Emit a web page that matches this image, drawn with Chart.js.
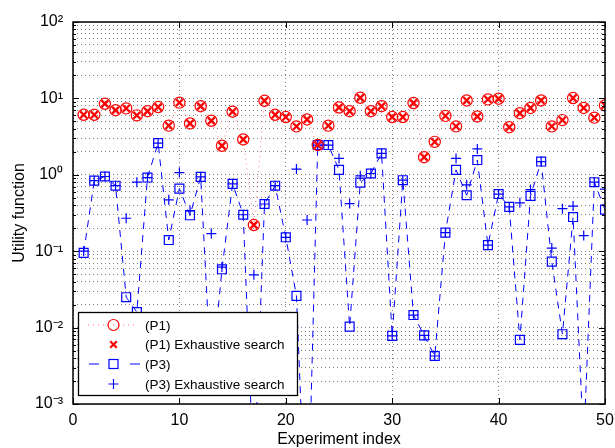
<!DOCTYPE html>
<html>
<head>
<meta charset="utf-8">
<script src="https://cdn.jsdelivr.net/npm/chart.js@4.4.1/dist/chart.umd.min.js"></script>
<style>
  html, body { margin: 0; padding: 0; background: #fff; }
  #wrap { width: 615px; height: 448px; position: relative; }
</style>
</head>
<body>
<div id="wrap"><canvas id="c" width="615" height="448"></canvas></div>
<script>
// ---- data ----
const experimentIndex = Array.from({length: 50}, (_, i) => i + 1);
const p1Values = [6.1,6.1,8.5,7.0,7.4,6.0,6.8,7.7,4.4,8.8,
                  4.7,7.9,5.1,2.4,6.7,2.9,0.22,9.3,6.1,5.7,
                  4.3,5.3,2.45,4.4,7.6,6.8,10.2,6.8,7.9,5.7,
                  5.7,8.7,1.7,2.7,5.9,4.3,9.4,5.8,9.7,9.9,
                  4.2,6.4,7.5,9.4,4.3,5.2,10.1,7.5,5.6,8.1];
const p1Exhaustive = [6.1,6.1,8.5,7.0,7.4,6.0,6.8,7.7,4.4,8.8,
                  4.7,7.9,5.1,2.4,6.7,2.9,0.22,9.3,6.1,5.7,
                  4.3,5.3,2.45,4.4,7.6,6.8,10.2,6.8,7.9,5.7,
                  5.7,8.7,1.7,2.7,5.9,4.3,9.4,5.8,9.7,9.9,
                  4.2,6.4,7.5,9.4,4.3,5.2,10.1,7.5,5.6,8.1];
const p3Values = [0.095,0.84,0.95,0.72,0.025,0.016,0.92,2.6,0.14,0.66,
                  0.295,0.94,0.002,0.058,0.76,0.30,0.0001,0.415,0.72,0.152,
                  0.026,0.00001,2.45,2.45,1.16,0.0103,0.79,1.04,1.91,0.0078,
                  0.85,0.0146,0.0079,0.00425,0.175,1.16,0.54,1.56,0.12,0.56,
                  0.38,0.0069,0.53,1.49,0.073,0.0082,0.28,0.0003,0.80,0.35];
const p3Exhaustive = [0.1,0.84,0.95,0.72,0.27,0.80,0.92,2.6,0.47,1.07,
                  0.34,0.94,0.17,0.062,0.76,0.30,0.049,0.415,0.72,0.152,
                  1.19,0.256,2.45,2.45,1.64,0.42,0.97,1.04,1.91,0.0078,
                  0.85,0.0146,0.0079,0.00425,0.175,1.64,0.74,2.18,0.12,0.56,
                  0.38,0.43,0.64,1.49,0.11,0.36,0.39,0.16,0.80,0.65];
const seriesLabels = ['(P1)', '(P1) Exhaustive search', '(P3)', '(P3) Exhaustive search'];
const xTickValues = [0, 10, 20, 30, 40, 50];
const yMajorValues = [0.001, 0.01, 0.1, 1, 10, 100];
const yTickLabels = ['10\u207B\u00B3', '10\u207B\u00B2', '10\u207B\u00B9', '10\u2070', '10\u00B9', '10\u00B2'];
const xTitle = 'Experiment index';
const yTitle = 'Utility function';

// ---- build ----
const pts = vals => experimentIndex.map((x, i) => ({x: x, y: vals[i]}));
const FONT = "'Liberation Sans', Arial, Helvetica, sans-serif";
const RED = 'rgb(255,0,0)';
const BLUE = 'rgb(0,0,255)';
const GRID = 'rgba(0,0,0,0.5)';

const yTicksAll = [];
for (let d = 0; d < yMajorValues.length - 1; d++) {
  for (let m = 1; m <= 9; m++) yTicksAll.push(yMajorValues[d] * m);
}
yTicksAll.push(yMajorValues[yMajorValues.length - 1]);
function majorIndex(v) {
  for (let i = 0; i < yMajorValues.length; i++) {
    if (Math.abs(v - yMajorValues[i]) / yMajorValues[i] < 1e-9) return i;
  }
  return -1;
}

const framePlugin = {
  id: 'frame',
  afterDatasetsDraw(chart) {
    const {ctx, chartArea: {left, right, top, bottom}, scales: {x, y}} = chart;
    ctx.save();
    ctx.strokeStyle = '#000';
    ctx.lineWidth = 1;
    ctx.setLineDash([]);
    ctx.beginPath();
    y.ticks.forEach(t => {
      const py = Math.round(y.getPixelForValue(t.value)) + 0.5;
      const len = majorIndex(t.value) >= 0 ? 6 : 3;
      ctx.moveTo(left, py); ctx.lineTo(left + len, py);
      ctx.moveTo(right, py); ctx.lineTo(right - len, py);
    });
    x.ticks.forEach(t => {
      const px = Math.round(x.getPixelForValue(t.value)) + 0.5;
      ctx.moveTo(px, bottom); ctx.lineTo(px, bottom - 6);
      ctx.moveTo(px, top); ctx.lineTo(px, top + 6);
    });
    ctx.stroke();
    ctx.lineWidth = 1.5;
    ctx.strokeRect(left, top, right - left, bottom - top);
    ctx.restore();
  },
  afterDraw(chart) {
    const ctx = chart.ctx;
    const bx = 78.5, by = 312.5, bw = 219, bh = 83;
    ctx.save();
    ctx.fillStyle = '#fff';
    ctx.fillRect(bx, by, bw, bh);
    ctx.strokeStyle = '#000';
    ctx.lineWidth = 1.3;
    ctx.strokeRect(bx, by, bw, bh);
    const rows = [325, 344.5, 364, 384];
    const mx = 113.5;
    // P1
    ctx.strokeStyle = 'rgba(255,0,0,0.6)';
    ctx.lineWidth = 1;
    ctx.setLineDash([1, 4]);
    ctx.beginPath(); ctx.moveTo(88, rows[0]); ctx.lineTo(138, rows[0]); ctx.stroke();
    ctx.setLineDash([]);
    ctx.strokeStyle = RED; ctx.lineWidth = 1.2;
    ctx.beginPath(); ctx.arc(mx, rows[0], 5.5, 0, Math.PI * 2); ctx.stroke();
    // P1 exhaustive
    ctx.lineWidth = 2.2;
    ctx.beginPath();
    ctx.moveTo(mx - 3.3, rows[1] - 3.3); ctx.lineTo(mx + 3.3, rows[1] + 3.3);
    ctx.moveTo(mx - 3.3, rows[1] + 3.3); ctx.lineTo(mx + 3.3, rows[1] - 3.3);
    ctx.stroke();
    // P3
    ctx.strokeStyle = BLUE; ctx.lineWidth = 1;
    ctx.setLineDash([10, 31]);
    ctx.beginPath(); ctx.moveTo(89, rows[2]); ctx.lineTo(140, rows[2]); ctx.stroke();
    ctx.setLineDash([]);
    ctx.lineWidth = 1.2;
    ctx.strokeRect(mx - 4.5, rows[2] - 4.5, 9, 9);
    // P3 exhaustive
    ctx.beginPath();
    ctx.moveTo(mx - 5, rows[3]); ctx.lineTo(mx + 5, rows[3]);
    ctx.moveTo(mx, rows[3] - 5); ctx.lineTo(mx, rows[3] + 5);
    ctx.stroke();
    // text
    ctx.fillStyle = '#000';
    ctx.font = '13.5px ' + FONT;
    ctx.textBaseline = 'middle';
    ctx.textAlign = 'left';
    seriesLabels.forEach((s, i) => ctx.fillText(s, 145, rows[i] + 1));
    ctx.restore();
  }
};

new Chart(document.getElementById('c'), {
  type: 'line',
  data: {
    datasets: [
      {
        label: seriesLabels[0], data: pts(p1Values),
        borderColor: 'rgba(255,0,0,0.5)', borderWidth: 1, borderDash: [1, 4],
        pointStyle: 'circle', pointRadius: 5.6, pointBorderColor: RED,
        pointBackgroundColor: 'rgba(0,0,0,0)', pointBorderWidth: 1.2, tension: 0
      },
      {
        label: seriesLabels[1], data: pts(p1Exhaustive), showLine: false,
        pointStyle: 'crossRot', pointRadius: 4.8, pointBorderColor: RED,
        pointBorderWidth: 2.3
      },
      {
        label: seriesLabels[2], data: pts(p3Values),
        borderColor: BLUE, borderWidth: 1, borderDash: [7, 6],
        pointStyle: 'rect', pointRadius: 6.3, pointBorderColor: BLUE,
        pointBackgroundColor: 'rgba(0,0,0,0)', pointBorderWidth: 1.2, tension: 0
      },
      {
        label: seriesLabels[3], data: pts(p3Exhaustive), showLine: false,
        pointStyle: 'cross', pointRadius: 5, pointBorderColor: BLUE,
        pointBorderWidth: 1.2
      }
    ]
  },
  options: {
    responsive: false,
    animation: false,
    devicePixelRatio: 1,
    layout: { padding: { left: 0, right: 10, top: 22, bottom: 0 } },
    plugins: { legend: { display: false }, tooltip: { enabled: false } },
    scales: {
      x: {
        type: 'linear', min: 0, max: 50,
        afterBuildTicks: s => { s.ticks = xTickValues.map(v => ({value: v})); },
        afterFit: s => { s.height = 44; s.paddingLeft = 0; s.paddingRight = 0; },
        ticks: { color: '#000', font: { family: FONT, size: 16 }, padding: 7, maxRotation: 0,
                 callback: v => String(v) },
        grid: { color: GRID, lineWidth: 1, drawTicks: false },
        border: { display: false, dash: [1, 3] },
        title: { display: true, text: xTitle, color: '#000', font: { family: FONT, size: 16 },
                 padding: { top: 0, bottom: -1 } }
      },
      y: {
        type: 'logarithmic', min: 0.001, max: 100,
        afterBuildTicks: s => { s.ticks = yTicksAll.map(v => ({value: v})); },
        afterFit: s => { s.width = 73; s.paddingTop = 0; s.paddingBottom = 0; },
        ticks: { color: '#000', font: { family: FONT, size: 16 }, padding: 10, autoSkip: false,
                 callback: v => { const i = majorIndex(v); return i >= 0 ? yTickLabels[i] : ''; } },
        grid: { color: GRID, lineWidth: 1, drawTicks: false },
        border: { display: false, dash: [1, 3] },
        title: { display: true, text: yTitle, color: '#000', font: { family: FONT, size: 16 },
                 padding: { top: 10, bottom: 0 } }
      }
    }
  },
  plugins: [framePlugin]
});
</script>
</body>
</html>
